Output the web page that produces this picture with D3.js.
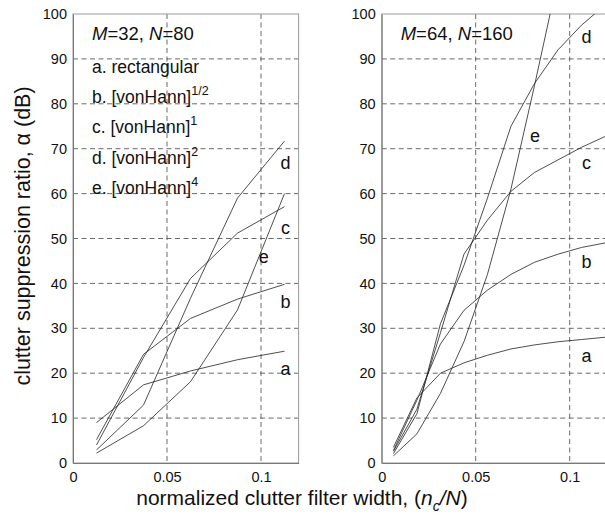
<!DOCTYPE html>
<html>
<head>
<meta charset="utf-8">
<script src="https://cdn.jsdelivr.net/npm/d3@7"></script>
<style>
  body { margin: 0; background: #fff; }
  svg { font-family: "Liberation Sans", Arial, Helvetica, sans-serif; }
</style>
</head>
<body>
<svg width="605" height="516"></svg>
<script>
// window labels shared by both panels
const curveNames = ["a", "b", "c", "d", "e"];
const legendLines = ["a. rectangular", "b. [vonHann]", "c. [vonHann]", "d. [vonHann]", "e. [vonHann]"];
const legendPowers = ["", "1/2", "1", "2", "4"];
const yTicks = [0, 10, 20, 30, 40, 50, 60, 70, 80, 90, 100];
const xTicks = [0, 0.05, 0.1];

// M=32, N=80  (n_c/N = 1/80, 3/80, ...)
const xLeft = [0.0125, 0.0375, 0.0625, 0.0875, 0.1125];
const leftA = [9, 17.4, 20.5, 23, 24.9];
const leftB = [5.2, 24.2, 32.2, 36.5, 39.8];
const leftC = [4, 23.5, 41.1, 51.2, 57.1];
const leftD = [2.9, 12.9, 36.7, 59, 71.7];
const leftE = [2.2, 8.3, 18.1, 34.1, 60];

// M=64, N=160  (n_c/N = 1/160, 3/160, ...)
const xRight = [0.00625, 0.01875, 0.03125, 0.04375, 0.05625, 0.06875, 0.08125, 0.09375, 0.10625, 0.11875];
const rightA = [3.5, 14.5, 20, 22.3, 24, 25.4, 26.3, 27, 27.5, 28];
const rightB = [2.8, 14, 26.5, 34, 38.5, 42, 44.7, 46.5, 48, 49];
const rightC = [2.6, 12, 29, 46.5, 54.1, 60.5, 64.7, 67.5, 70.3, 72.7];
const rightD = [2.1, 11, 31, 44, 59, 75, 84.5, 92, 97.5, 102];
const rightE = [1.6, 6.5, 15.5, 27, 42, 61, 84, 108, 130, 150];

const svg = d3.select("svg");
const plotW = 225.6, plotH = 449;

const panels = [
  {
    left: 73, top: 14, xs: xLeft, series: [leftA, leftB, leftC, leftD, leftE],
    title: ["M", "=32, ", "N", "=80"], legend: true,
    // curve label positions in data units
    labels: [[0.113, 19.5], [0.113, 34.5], [0.113, 51], [0.113, 65.5], [0.1015, 44.5]]
  },
  {
    left: 381.7, top: 14, xs: xRight, series: [rightA, rightB, rightC, rightD, rightE],
    title: ["M", "=64, ", "N", "=160"], legend: false,
    labels: [[0.109, 22.5], [0.109, 43.5], [0.109, 65.5], [0.109, 93.5], [0.0815, 71.5]]
  }
];

const x = d3.scaleLinear().domain([0, 0.12]).range([0, plotW]);
const y = d3.scaleLinear().domain([0, 100]).range([plotH, 0]);

panels.forEach((p, pi) => {
  const g = svg.append("g").attr("transform", "translate(" + p.left + "," + p.top + ")");

  // clip for curves going over 100 dB
  svg.append("clipPath").attr("id", "clip" + pi)
    .append("rect").attr("width", plotW).attr("height", plotH);

  // dashed grid
  g.selectAll(".hgrid").data(yTicks.slice(1, -1)).enter().append("line")
    .attr("x1", 0).attr("x2", plotW)
    .attr("y1", d => y(d)).attr("y2", d => y(d))
    .attr("stroke", "#444").attr("stroke-width", 0.8)
    .attr("stroke-dasharray", "5,3.5");
  g.selectAll(".vgrid").data(xTicks.slice(1)).enter().append("line")
    .attr("x1", d => x(d)).attr("x2", d => x(d))
    .attr("y1", 0).attr("y2", plotH)
    .attr("stroke", "#444").attr("stroke-width", 0.8)
    .attr("stroke-dasharray", "5,3.5");

  // frame
  g.append("rect").attr("width", plotW).attr("height", plotH)
    .attr("fill", "none").attr("stroke", "#999").attr("stroke-width", 1);

  // axes (labels only, no tick marks)
  const yAxis = g.append("g")
    .call(d3.axisLeft(y).tickValues(yTicks).tickSize(0).tickPadding(6));
  const xAxis = g.append("g").attr("transform", "translate(0," + plotH + ")")
    .call(d3.axisBottom(x).tickValues(xTicks).tickSize(0).tickPadding(9).tickFormat(d => d));
  [yAxis, xAxis].forEach(a => {
    a.select(".domain").attr("stroke", "#777").attr("stroke-width", 1);
    a.selectAll("text").attr("font-size", "14.5px").attr("fill", "#111")
      .attr("font-family", "'Liberation Sans', Arial, sans-serif");
  });

  // curves
  const line = d3.line().x((d, i) => x(p.xs[i])).y(d => y(d));
  g.append("g").attr("clip-path", "url(#clip" + pi + ")")
    .selectAll("path").data(p.series).enter().append("path")
    .attr("d", line)
    .attr("fill", "none").attr("stroke", "#222").attr("stroke-width", 0.8);

  // curve letters
  g.selectAll(".clab").data(p.labels).enter().append("text")
    .attr("x", d => x(d[0])).attr("y", d => y(d[1]))
    .attr("text-anchor", "middle").attr("font-size", "18px").attr("fill", "#111")
    .text((d, i) => curveNames[i]);

  // panel title with italic M and N
  const t = g.append("text").attr("x", 19).attr("y", 26)
    .attr("font-size", "18.5px").attr("fill", "#111");
  p.title.forEach((s, i) => {
    t.append("tspan").attr("font-style", i % 2 === 0 ? "italic" : "normal").text(s);
  });

  if (p.legend) {
    legendLines.forEach((s, i) => {
      const lt = g.append("text").attr("x", 19).attr("y", 59 + i * 30.2)
        .attr("font-size", "17.5px").attr("fill", "#111");
      lt.append("tspan").text(s);
      if (legendPowers[i]) {
        lt.append("tspan").attr("dy", -8).attr("font-size", "12.5px").text(legendPowers[i]);
      }
    });
  }
});

// y axis title
svg.append("text")
  .attr("transform", "translate(30,236) rotate(-90)")
  .attr("text-anchor", "middle").attr("font-size", "21.5px").attr("fill", "#111")
  .text("clutter suppression ratio, \u03b1 (dB)");

// x axis title with subscript
const xt = svg.append("text").attr("x", 302).attr("y", 505)
  .attr("text-anchor", "middle").attr("font-size", "21px").attr("fill", "#111");
xt.append("tspan").text("normalized clutter filter width, (");
xt.append("tspan").attr("font-style", "italic").text("n");
xt.append("tspan").attr("font-style", "italic").attr("font-size", "14px").attr("dy", 6).text("c");
xt.append("tspan").attr("font-style", "italic").attr("dy", -6).text("/N");
xt.append("tspan").text(")");
</script>
</body>
</html>
